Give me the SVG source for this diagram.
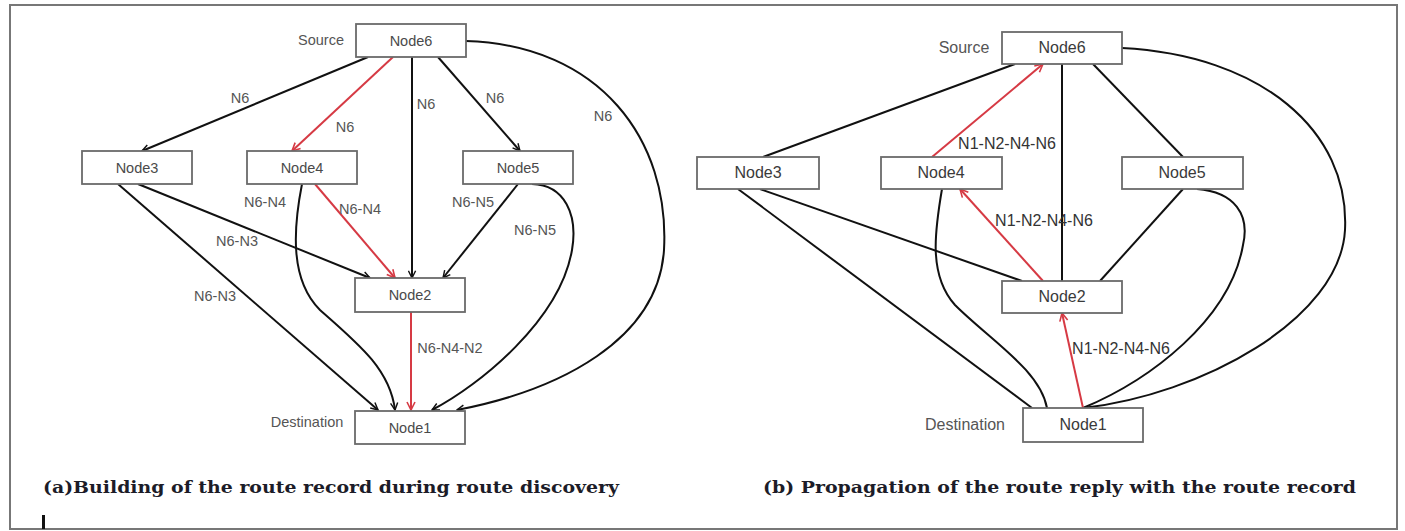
<svg xmlns="http://www.w3.org/2000/svg" width="1405" height="531" viewBox="0 0 1405 531">
  <defs>
    <style>
      .box { fill: #ffffff; stroke: #6a6a6a; stroke-width: 1.8; }
      .nl { font-family: "Liberation Sans", Arial, sans-serif; fill: #4a4a4a; text-anchor: middle; }
      .a .nl { font-size: 14.5px; }
      .b .nl { font-size: 16px; fill: #3a3a3a; }
      .side { font-family: "Liberation Sans", Arial, sans-serif; fill: #555555; text-anchor: middle; }
      .el { font-family: "Liberation Sans", Arial, sans-serif; font-size: 14.5px; fill: #555555; text-anchor: middle; }
      .elb { font-family: "Liberation Sans", Arial, sans-serif; font-size: 16px; fill: #333333; text-anchor: middle; }
      .e { fill: none; stroke: #111111; stroke-width: 2; }
      .r { fill: none; stroke: #d63a44; stroke-width: 2; }
      .cap { font-family: "DejaVu Serif", "Liberation Serif", serif; font-weight: bold; font-size: 16px; fill: #1c1c28; }
    </style>
    <marker id="ak" viewBox="0 0 10 10" refX="9" refY="5" markerWidth="9" markerHeight="9" markerUnits="userSpaceOnUse" orient="auto">
      <path d="M1,1 L9,5 L1,9" fill="none" stroke="#111111" stroke-width="1.6"/>
    </marker>
    <marker id="ar" viewBox="0 0 10 10" refX="9" refY="5" markerWidth="10" markerHeight="10" markerUnits="userSpaceOnUse" orient="auto">
      <path d="M1,1 L9,5 L1,9" fill="none" stroke="#d63a44" stroke-width="1.6"/>
    </marker>
  </defs>

  <rect x="0" y="0" width="1405" height="531" fill="#ffffff"/>
  <!-- frame -->
  <rect x="10" y="5" width="1387" height="524" fill="none" stroke="#777777" stroke-width="2"/>

  <!-- (a) route discovery: connectors -->
  <g id="connectors-a">
    <line class="e" x1="368" y1="57" x2="142" y2="151" marker-end="url(#ak)"/>
    <line class="r" x1="393" y1="57" x2="292" y2="151" marker-end="url(#ar)"/>
    <line class="e" x1="412" y1="57" x2="412" y2="278" marker-end="url(#ak)"/>
    <line class="e" x1="438" y1="57" x2="520" y2="151" marker-end="url(#ak)"/>
    <path class="e" d="M466,41 C600,45 670,140 664,250 C658,340 560,390 457,410" marker-end="url(#ak)"/>
    <line class="e" x1="118" y1="184" x2="378" y2="410" marker-end="url(#ak)"/>
    <line class="e" x1="138" y1="184" x2="370" y2="278" marker-end="url(#ak)"/>
    <path class="e" d="M302,184 C293,230 290,280 320,310 C360,345 390,370 395,410" marker-end="url(#ak)"/>
    <line class="r" x1="315" y1="184" x2="395" y2="278" marker-end="url(#ar)"/>
    <line class="e" x1="518" y1="184" x2="443" y2="278" marker-end="url(#ak)"/>
    <path class="e" d="M532,184 C565,185 578,215 572,250 C560,320 480,385 432,410" marker-end="url(#ak)"/>
    <line class="r" x1="411" y1="312" x2="411" y2="410" marker-end="url(#ar)"/>

    <text class="el" x="240" y="103">N6</text>
    <text class="el" x="345" y="132">N6</text>
    <text class="el" x="426" y="109">N6</text>
    <text class="el" x="495" y="103">N6</text>
    <text class="el" x="603" y="121">N6</text>
    <text class="el" x="265" y="207">N6-N4</text>
    <text class="el" x="360" y="214">N6-N4</text>
    <text class="el" x="237" y="246">N6-N3</text>
    <text class="el" x="215" y="301">N6-N3</text>
    <text class="el" x="473" y="207">N6-N5</text>
    <text class="el" x="535" y="235">N6-N5</text>
    <text class="el" x="450" y="353">N6-N4-N2</text>
  </g>

  <!-- (a) nodes -->
  <g class="a">
    <g id="a-node6">
      <rect class="box" x="356" y="24" width="110" height="33"/>
      <text class="nl" x="411" y="46">Node6</text>
      <text class="side" x="321" y="45" font-size="14.5">Source</text>
    </g>
    <g id="a-node3">
      <rect class="box" x="82" y="151" width="110" height="33"/>
      <text class="nl" x="137" y="173">Node3</text>
    </g>
    <g id="a-node4">
      <rect class="box" x="247" y="151" width="110" height="33"/>
      <text class="nl" x="302" y="173">Node4</text>
    </g>
    <g id="a-node5">
      <rect class="box" x="463" y="151" width="110" height="33"/>
      <text class="nl" x="518" y="173">Node5</text>
    </g>
    <g id="a-node2">
      <rect class="box" x="355" y="278" width="110" height="34"/>
      <text class="nl" x="410" y="300">Node2</text>
    </g>
    <g id="a-node1">
      <rect class="box" x="355" y="411" width="110" height="33"/>
      <text class="nl" x="410" y="433">Node1</text>
      <text class="side" x="307" y="427" font-size="14.5">Destination</text>
    </g>
  </g>

  <!-- (b) route reply: connectors -->
  <g id="connectors-b">
    <line class="e" x1="1015" y1="64" x2="763" y2="157"/>
    <line class="r" x1="932" y1="157" x2="1043" y2="64" marker-end="url(#ar)"/>
    <line class="e" x1="1062" y1="64" x2="1062" y2="281"/>
    <line class="e" x1="1093" y1="64" x2="1183" y2="157"/>
    <path class="e" d="M1122,48 C1260,55 1350,130 1345,230 C1340,320 1200,395 1083,408"/>
    <path class="e" d="M1197,189 C1235,192 1250,215 1243,245 C1230,320 1150,380 1083,408"/>
    <line class="e" x1="1183" y1="189" x2="1100" y2="281"/>
    <line class="r" x1="1043" y1="281" x2="960" y2="189" marker-end="url(#ar)"/>
    <line class="r" x1="1083" y1="408" x2="1062" y2="313" marker-end="url(#ar)"/>
    <line class="e" x1="738" y1="189" x2="1032" y2="408"/>
    <line class="e" x1="760" y1="189" x2="1022" y2="281"/>
    <path class="e" d="M942,189 C935,230 928,275 955,305 C990,340 1040,370 1047,408"/>

    <text class="elb" x="1007" y="149">N1-N2-N4-N6</text>
    <text class="elb" x="1044" y="226">N1-N2-N4-N6</text>
    <text class="elb" x="1121" y="354">N1-N2-N4-N6</text>
  </g>

  <!-- (b) nodes -->
  <g class="b">
    <g id="b-node6">
      <rect class="box" x="1002" y="32" width="120" height="32"/>
      <text class="nl" x="1062" y="53">Node6</text>
      <text class="side" x="964" y="53" font-size="16">Source</text>
    </g>
    <g id="b-node3">
      <rect class="box" x="697" y="157" width="122" height="32"/>
      <text class="nl" x="758" y="178">Node3</text>
    </g>
    <g id="b-node4">
      <rect class="box" x="881" y="157" width="121" height="32"/>
      <text class="nl" x="941" y="178">Node4</text>
    </g>
    <g id="b-node5">
      <rect class="box" x="1122" y="157" width="121" height="32"/>
      <text class="nl" x="1182" y="178">Node5</text>
    </g>
    <g id="b-node2">
      <rect class="box" x="1002" y="281" width="120" height="32"/>
      <text class="nl" x="1062" y="302">Node2</text>
    </g>
    <g id="b-node1">
      <rect class="box" x="1023" y="408" width="120" height="34"/>
      <text class="nl" x="1083" y="430">Node1</text>
      <text class="side" x="965" y="430" font-size="16">Destination</text>
    </g>
  </g>

  <!-- captions -->
  <text class="cap" x="43" y="493" textLength="576" lengthAdjust="spacingAndGlyphs">(a)Building of the route record during route discovery</text>
  <text class="cap" x="763" y="493" textLength="593" lengthAdjust="spacingAndGlyphs">(b) Propagation of the route reply with the route record</text>

  <!-- text cursor bar -->
  <rect x="42" y="515" width="3" height="14" fill="#111111"/>
</svg>
